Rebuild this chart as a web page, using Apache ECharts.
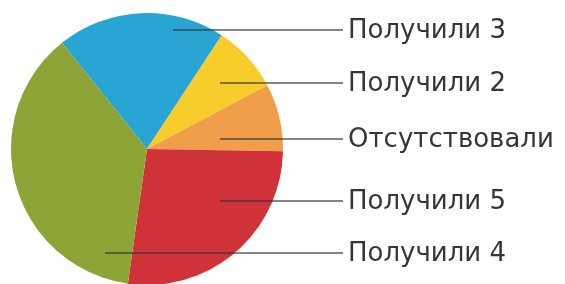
<!DOCTYPE html>
<html>
<head>
<meta charset="utf-8">
<script src="https://cdn.jsdelivr.net/npm/echarts@6/dist/echarts.min.js"></script>
<style>
  html, body { margin: 0; padding: 0; background: #fff; }
  #chart { width: 565px; height: 284px; }
</style>
</head>
<body>
<div id="chart"></div>
<script>
// категории и значения (в процентах)
const categories = ['Получили 3', 'Получили 2', 'Отсутствовали', 'Получили 5', 'Получили 4'];
const values = [20, 8, 8, 27, 37];
const colors = ['#29a5d4', '#f7cd2b', '#f19e4b', '#d0323a', '#8da436'];

// положение подписей (оформление)
const labelY = [30, 83, 139, 201, 253];
const lineStartX = [173, 220, 220, 220, 105];
const lineEndX = 343;
const textX = 348;

const chart = echarts.init(document.getElementById('chart'));

const common = {
    type: 'pie',
    center: [147, 149],
    radius: 136,
    startAngle: 128.7,
    clockwise: true,
    avoidLabelOverlap: false,
    emphasis: { disabled: true },
    silent: true
};

chart.setOption({
    animation: false,
    series: [
        // сами сектора
        Object.assign({}, common, {
            z: 2,
            data: categories.map((name, i) => ({
                name: name,
                value: values[i],
                itemStyle: { color: colors[i] }
            })),
            label: { show: false },
            labelLine: { show: false }
        }),
        // подписи с линиями поверх секторов
        Object.assign({}, common, {
            z: 3,
            data: categories.map((name, i) => ({ name: name, value: values[i] })),
            itemStyle: { color: 'rgba(0,0,0,0)' },
            label: {
                show: true,
                formatter: '{b}',
                fontFamily: 'DejaVu Sans',
                fontSize: 26,
                color: '#363636',
                overflow: 'none'
            },
            labelLine: {
                show: true,
                lineStyle: { color: '#333', width: 2, opacity: 0.6 }
            },
            labelLayout: function (params) {
                const i = params.dataIndex;
                return {
                    x: textX,
                    y: labelY[i] + 1,
                    align: 'left',
                    verticalAlign: 'middle',
                    hideOverlap: false,
                    labelLinePoints: [[lineStartX[i], labelY[i]], [lineEndX, labelY[i]], [lineEndX, labelY[i]]]
                };
            }
        })
    ]
});
</script>
</body>
</html>
